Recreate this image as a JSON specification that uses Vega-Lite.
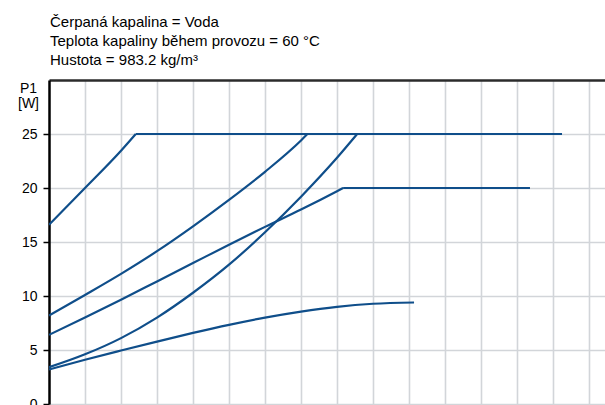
{
  "$schema": "https://vega.github.io/schema/vega-lite/v6.json",
  "width": 556,
  "height": 324,
  "autosize": {"type": "none"},
  "padding": {"left": 49, "top": 80, "right": 0, "bottom": 1},
  "background": "white",
  "config": {
    "view": {"stroke": null},
    "font": "Liberation Sans"
  },
  "title": {
    "text": ["Čerpaná kapalina = Voda", "Teplota kapaliny během provozu = 60 °C", "Hustota = 983.2 kg/m³"],
    "anchor": "start",
    "frame": "group",
    "font": "Liberation Sans",
    "fontSize": 15,
    "fontWeight": "normal",
    "lineHeight": 19,
    "color": "#000000",
    "offset": 12,
    "dx": 1
  },
  "data": {
    "values": [
      {"s": "A", "x": 0, "y": 16.6},
      {"s": "A", "x": 1, "y": 20.0},
      {"s": "A", "x": 2, "y": 23.45},
      {"s": "A", "x": 2.41, "y": 25},
      {"s": "A-flat", "x": 2.41, "y": 25},
      {"s": "A-flat", "x": 14.25, "y": 25},
      {"s": "B", "x": 0, "y": 8.2},
      {"s": "B", "x": 1, "y": 10.1},
      {"s": "B", "x": 2, "y": 12.05},
      {"s": "B", "x": 3, "y": 14.15},
      {"s": "B", "x": 4, "y": 16.45},
      {"s": "B", "x": 5, "y": 18.9},
      {"s": "B", "x": 6, "y": 21.5},
      {"s": "B", "x": 7, "y": 24.4},
      {"s": "B", "x": 7.18, "y": 25},
      {"s": "C", "x": 0, "y": 6.4},
      {"s": "C", "x": 1, "y": 8.0},
      {"s": "C", "x": 2, "y": 9.65},
      {"s": "C", "x": 3, "y": 11.35},
      {"s": "C", "x": 4, "y": 13.05},
      {"s": "C", "x": 5, "y": 14.75},
      {"s": "C", "x": 6, "y": 16.4},
      {"s": "C", "x": 7, "y": 18.0},
      {"s": "C", "x": 8, "y": 19.7},
      {"s": "C", "x": 8.17, "y": 20},
      {"s": "C-flat", "x": 8.17, "y": 20},
      {"s": "C-flat", "x": 13.36, "y": 20},
      {"s": "D", "x": 0, "y": 3.4},
      {"s": "D", "x": 1, "y": 4.6},
      {"s": "D", "x": 2, "y": 6.1},
      {"s": "D", "x": 3, "y": 8.0},
      {"s": "D", "x": 4, "y": 10.3},
      {"s": "D", "x": 5, "y": 12.9},
      {"s": "D", "x": 6, "y": 15.9},
      {"s": "D", "x": 7, "y": 19.2},
      {"s": "D", "x": 8, "y": 22.8},
      {"s": "D", "x": 8.56, "y": 25},
      {"s": "E", "x": 0, "y": 3.2},
      {"s": "E", "x": 1, "y": 4.1},
      {"s": "E", "x": 2, "y": 4.95},
      {"s": "E", "x": 3, "y": 5.78},
      {"s": "E", "x": 4, "y": 6.58},
      {"s": "E", "x": 5, "y": 7.33},
      {"s": "E", "x": 6, "y": 8.0},
      {"s": "E", "x": 7, "y": 8.56},
      {"s": "E", "x": 8, "y": 9.0},
      {"s": "E", "x": 9, "y": 9.28},
      {"s": "E", "x": 10.14, "y": 9.4}
    ]
  },
  "mark": {"type": "line", "color": "#0f4e8a", "strokeWidth": 2.2, "clip": true, "interpolate": "monotone"},
  "encoding": {
    "x": {
      "field": "x",
      "type": "quantitative",
      "scale": {"domain": [0, 15.444], "nice": false, "zero": false},
      "axis": {
        "orient": "top",
        "title": null,
        "values": [1, 2, 3, 4, 5, 6, 7, 8, 9, 10, 11, 12, 13, 14, 15],
        "labels": false,
        "ticks": false,
        "domain": true,
        "domainColor": "#2b2b2b",
        "domainWidth": 2.5,
        "grid": true,
        "gridColor": "#d2d5d9",
        "gridWidth": 1.6
      }
    },
    "y": {
      "field": "y",
      "type": "quantitative",
      "scale": {"domain": [0, 30], "nice": false},
      "axis": {
        "values": [0, 5, 10, 15, 20, 25],
        "title": ["P1", "[W]"],
        "titleAngle": 0,
        "titleAlign": "center",
        "titleBaseline": "top",
        "titleX": -21,
        "titleY": 1,
        "titleFont": "Liberation Sans",
        "titleFontSize": 14,
        "titleFontWeight": "normal",
        "titleLineHeight": 15,
        "titleColor": "#000000",
        "labelFont": "Liberation Sans",
        "labelFontSize": 14,
        "labelColor": "#000000",
        "labelPadding": 6,
        "tickColor": "#000000",
        "tickSize": 6,
        "tickWidth": 1.5,
        "domainColor": "#000000",
        "domainWidth": 2.5,
        "grid": true,
        "gridColor": "#d2d5d9",
        "gridWidth": 1.6
      }
    },
    "detail": {"field": "s", "type": "nominal"}
  }
}
